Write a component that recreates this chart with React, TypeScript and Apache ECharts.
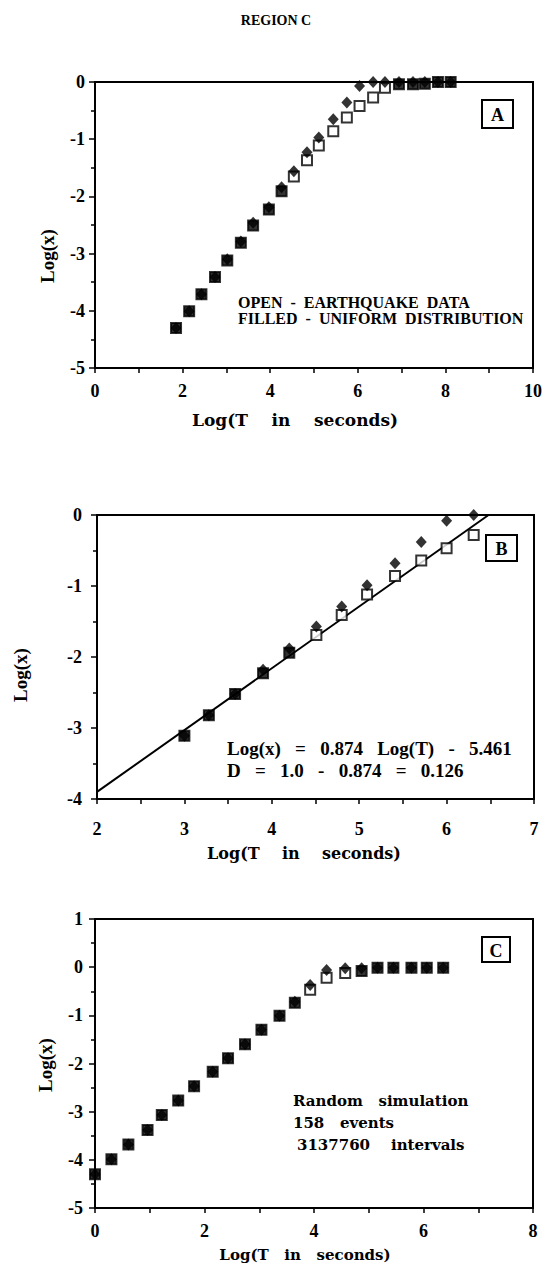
import React, { useEffect, useRef } from 'react';
import * as echarts from 'echarts';

// Panel A
const xA = [1.85, 2.15, 2.43, 2.74, 3.02, 3.33, 3.61, 3.97, 4.26, 4.54, 4.84, 5.11, 5.44, 5.75, 6.04, 6.35, 6.62, 6.94, 7.26, 7.53, 7.83, 8.12];
const uniformA = [-4.30, -4.01, -3.71, -3.41, -3.10, -2.79, -2.46, -2.19, -1.84, -1.56, -1.23, -0.97, -0.65, -0.36, -0.07, 0, 0, 0, 0, 0, 0, 0];
const quakeA = [-4.30, -4.01, -3.71, -3.41, -3.12, -2.81, -2.51, -2.23, -1.91, -1.65, -1.37, -1.11, -0.86, -0.62, -0.42, -0.27, -0.10, -0.04, -0.04, -0.03, 0, 0];

// Panel B
const xB = [3.00, 3.28, 3.58, 3.90, 4.20, 4.51, 4.80, 5.09, 5.41, 5.71, 6.00, 6.31];
const uniformB = [-3.11, -2.82, -2.52, -2.18, -1.88, -1.57, -1.29, -0.99, -0.68, -0.38, -0.08, 0];
const quakeB = [-3.11, -2.82, -2.52, -2.23, -1.94, -1.69, -1.41, -1.12, -0.86, -0.64, -0.47, -0.28];
const fitX = [2, 6.48];
const fitY = [-3.9, 0];

// Panel C
const xC = [0.0, 0.30, 0.61, 0.96, 1.22, 1.52, 1.81, 2.15, 2.43, 2.74, 3.04, 3.37, 3.65, 3.93, 4.23, 4.57, 4.87, 5.16, 5.45, 5.78, 6.06, 6.36];
const uniformC = [-4.30, -3.99, -3.68, -3.38, -3.07, -2.77, -2.47, -2.17, -1.89, -1.60, -1.30, -1.01, -0.72, -0.37, -0.06, -0.02, -0.02, -0.01, -0.01, -0.01, -0.01, -0.01];
const simC = [-4.30, -3.99, -3.68, -3.38, -3.07, -2.77, -2.47, -2.17, -1.89, -1.60, -1.30, -1.01, -0.74, -0.47, -0.22, -0.12, -0.08, -0.01, -0.01, -0.01, -0.01, -0.01];

const SERIF = 'Liberation Serif';
const WIDE = 'DejaVu Serif';

function axisX(gi: number, min: number, max: number, interval: number, minorSplit: number, margin: number) {
  return {
    type: 'value', gridIndex: gi, min, max, interval,
    axisLine: { show: true, onZero: false, lineStyle: { color: '#000', width: 2 } },
    axisTick: { show: true, length: 5, lineStyle: { color: '#000', width: 1.5 } },
    minorTick: { show: minorSplit > 1, splitNumber: minorSplit, length: 5, lineStyle: { color: '#000', width: 1.5 } },
    splitLine: { show: false },
    minorSplitLine: { show: false },
    axisLabel: { color: '#000', fontFamily: SERIF, fontWeight: 'bold', fontSize: 18, margin },
  };
}
function axisY(gi: number, min: number, max: number, margin: number) {
  return {
    type: 'value', gridIndex: gi, min, max, interval: 1,
    axisLine: { show: true, onZero: false, lineStyle: { color: '#000', width: 2 } },
    axisTick: { show: true, length: 6, lineStyle: { color: '#000', width: 1.5 } },
    minorTick: { show: true, splitNumber: 2, length: 4, lineStyle: { color: '#000', width: 1.5 } },
    splitLine: { show: false },
    minorSplitLine: { show: false },
    axisLabel: { color: '#000', fontFamily: SERIF, fontWeight: 'bold', fontSize: 18, margin },
  };
}

function squares(xs: number[], ys: number[], other: number[], idx: number) {
  return {
    type: 'scatter', xAxisIndex: idx, yAxisIndex: idx, clip: false, z: 3,
    symbol: 'rect', symbolSize: 10,
    data: xs.map((x, i) => [x, ys[i]]),
    itemStyle: {
      color: (p: any) => (Math.abs(ys[p.dataIndex] - other[p.dataIndex]) <= 0.075 ? '#000' : '#fff'),
      borderColor: '#000', borderWidth: 2,
    },
  };
}
function diamonds(xs: number[], ys: number[], idx: number) {
  return {
    type: 'scatter', xAxisIndex: idx, yAxisIndex: idx, clip: false, z: 4,
    symbol: 'diamond', symbolSize: [11, 12],
    data: xs.map((x, i) => [x, ys[i]]),
    itemStyle: { color: '#000' },
  };
}

function txt(text: string, x: number, y: number, font: string, align = 'center', rotation = 0) {
  return {
    type: 'text', x, y, rotation, z: 10,
    style: { text, font, fill: '#000', textAlign: align, textVerticalAlign: 'middle' },
  };
}
function box(label: string, x: number, y: number, w: number, h: number) {
  return [
    { type: 'rect', z: 9, shape: { x, y, width: w, height: h }, style: { fill: '#fff', stroke: '#000', lineWidth: 2 } },
    txt(label, x + w / 2, y + h / 2 + 1, `bold 18px ${SERIF}`),
  ];
}

export default function App() {
  const ref = useRef<HTMLDivElement>(null);
  useEffect(() => {
    if (!ref.current) return;
    const chart = echarts.init(ref.current, undefined, { renderer: 'svg' });
    const gridStyle = { show: true, borderColor: '#000', borderWidth: 2, backgroundColor: 'transparent', containLabel: false };
    chart.setOption({
      animation: false,
      backgroundColor: '#fff',
      grid: [
        { ...gridStyle, left: 95, top: 82, width: 438, height: 286 },
        { ...gridStyle, left: 97, top: 515, width: 437, height: 284 },
        { ...gridStyle, left: 95, top: 919, width: 438, height: 289 },
      ],
      xAxis: [
        axisX(0, 0, 10, 2, 2, 14),
        axisX(1, 2, 7, 1, 2, 21),
        axisX(2, 0, 8, 2, 2, 14),
      ],
      yAxis: [
        axisY(0, -5, 0, 10),
        axisY(1, -4, 0, 15),
        axisY(2, -5, 1, 12),
      ],
      series: [
        squares(xA, quakeA, uniformA, 0),
        diamonds(xA, uniformA, 0),
        {
          type: 'line', xAxisIndex: 1, yAxisIndex: 1, symbol: 'none', z: 2,
          data: fitX.map((x, i) => [x, fitY[i]]),
          lineStyle: { color: '#000', width: 2 },
        },
        squares(xB, quakeB, uniformB, 1),
        diamonds(xB, uniformB, 1),
        squares(xC, simC, uniformC, 2),
        diamonds(xC, uniformC, 2),
      ],
      graphic: [
        txt('REGION C', 276, 20, `bold 14px ${SERIF}`),
        // Panel A
        txt('Log(x)', 47, 256, `bold 19px ${SERIF}`, 'center', Math.PI / 2),
        txt('Log(T    in    seconds)', 295, 420, `bold 17px ${WIDE}`),
        txt('OPEN  -  EARTHQUAKE  DATA', 238, 302, `bold 16px ${SERIF}`, 'left'),
        txt('FILLED  -  UNIFORM  DISTRIBUTION', 238, 318, `bold 16px ${SERIF}`, 'left'),
        ...box('A', 482, 100, 31, 28),
        // Panel B
        txt('Log(x)', 20, 675, `bold 19px ${SERIF}`, 'center', Math.PI / 2),
        txt('Log(T    in    seconds)', 304, 853, `bold 16px ${WIDE}`),
        txt('Log(x)   =   0.874   Log(T)   -   5.461', 227, 748, `bold 19px ${SERIF}`, 'left'),
        txt('D   =   1.0   -   0.874   =   0.126', 227, 770, `bold 19px ${SERIF}`, 'left'),
        ...box('B', 486, 535, 31, 26),
        // Panel C
        txt('Log(x)', 45, 1065, `bold 19px ${SERIF}`, 'center', Math.PI / 2),
        txt('Log(T   in   seconds)', 305, 1255, `bold 15px ${WIDE}`),
        txt('Random   simulation', 293, 1101, `bold 15px ${WIDE}`, 'left'),
        txt('158   events', 293, 1123, `bold 15px ${WIDE}`, 'left'),
        txt('3137760    intervals', 297, 1145, `bold 15px ${WIDE}`, 'left'),
        ...box('C', 482, 937, 28, 25),
      ],
    });
    return () => chart.dispose();
  }, []);
  return <div ref={ref} style={{ position: 'absolute', left: 0, top: 0, width: 547, height: 1278 }} />;
}
